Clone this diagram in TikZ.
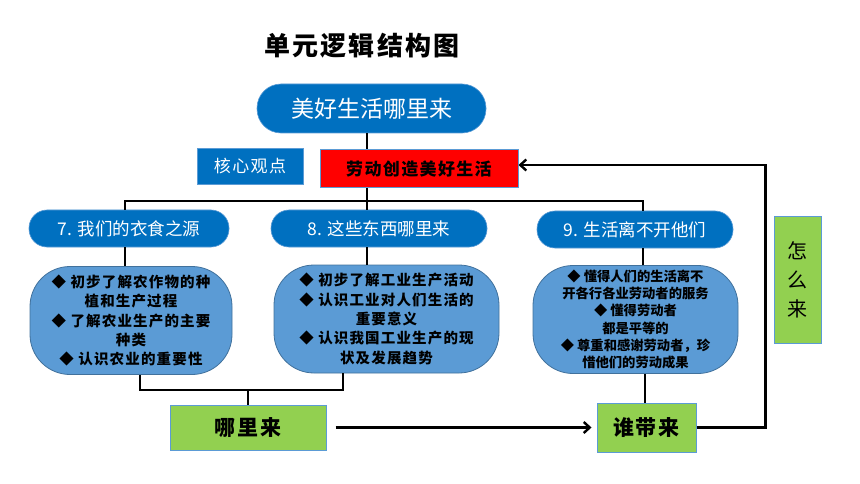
\documentclass[tikz,border=0pt]{standalone}
\usepackage{fontspec}
\setmainfont{Noto Sans CJK SC}
\newfontfamily\cjkspaced[LetterSpace=8]{Noto Sans CJK SC}
\usetikzlibrary{arrows.meta}
\definecolor{deepblue}{HTML}{0070C0}
\definecolor{paleblue}{HTML}{5B9BD5}
\definecolor{edgeblue}{HTML}{41719C}
\definecolor{leaf}{HTML}{92D050}
\tikzset{
  link/.style={line width=2.4pt, black},
  headpill/.style={rectangle, rounded corners=18pt, draw=paleblue, line width=0.6pt, fill=deepblue,
    text=white, minimum height=37pt, inner sep=0pt, font=\fontsize{17.5}{20}\selectfont},
  goalbox/.style={rectangle, draw=paleblue, line width=1pt, fill=leaf, inner sep=0pt},
  aimbox/.style={rectangle, rounded corners=40pt, draw=edgeblue, line width=0.8pt, fill=paleblue,
    inner sep=0pt, align=center}
}
\newcommand{\mapheadnode}[4] {\node at (#1) (#2) [headpill, minimum width=#3] {#4};}
\newcommand{\mapaimnode}[5] {\node at (#1) (#2) [aimbox, minimum width=#3, minimum height=108pt, font=#4] {#5};}
\newcommand{\mapgoalnode}[5] {\node at (#1) (#2) [goalbox, minimum width=#3, minimum height=#4] {#5};}
\begin{document}
\begin{tikzpicture}[x=1pt, y=-1pt, >={Straight Barb[length=6pt,width=11pt]}]
\useasboundingbox (0,0) rectangle (860,484);
\node at (362,46) (title) [font=\fontsize{26}{30}\selectfont\cjkspaced\bfseries] {单元逻辑结构图};
\node at (371.5,108.5) (top) [headpill, rounded corners=24pt, minimum width=229pt, minimum height=49pt,
  font=\fontsize{23}{26}\selectfont] {美好生活哪里来};
\node at (250,166) (core) [rectangle, draw=paleblue, fill=deepblue, text=white, minimum width=106pt,
  minimum height=36pt, inner sep=0pt, font=\fontsize{17}{20}\selectfont\cjkspaced] {核心观点};
\node at (419,169) (idea) [rectangle, draw=paleblue, line width=1pt, fill=red, minimum width=198pt,
  minimum height=38pt, inner sep=0pt, font=\fontsize{17}{20}\selectfont\cjkspaced\bfseries] {劳动创造美好生活};
% unit headings
\mapheadnode{129,228.5}{h7}{200pt}{7. 我们的衣食之源}
\mapheadnode{379,228.5}{h8}{216pt}{8. 这些东西哪里来}
\mapheadnode{635,229.5}{h9}{196pt}{9. 生活离不开他们}
% unit aims
\mapaimnode{131,320.5}{b7}{202pt}{\fontsize{14.5}{19.3}\selectfont\cjkspaced\bfseries}
  {◆ 初步了解农作物的种\\植和生产过程\\◆ 了解农业生产的主要\\种类\\◆ 认识农业的重要性}
\mapaimnode{386.5,319}{b8}{225pt}{\fontsize{14.5}{19.3}\selectfont\cjkspaced\bfseries}
  {◆ 初步了解工业生产活动\\◆ 认识工业对人们生活的\\重要意义\\◆ 认识我国工业生产的现\\状及发展趋势}
\mapaimnode{635.5,319.5}{b9}{205pt}{\fontsize{13.3}{17.3}\selectfont\bfseries}
  {◆ 懂得人们的生活离不\\开各行各业劳动者的服务\\◆ 懂得劳动者\\都是平等的\\◆ 尊重和感谢劳动者，珍\\惜他们的劳动成果}
% questions
\mapgoalnode{248,427.5}{where}{156pt}{45pt}{\fontsize{21}{24}\selectfont\cjkspaced\bfseries 哪里来}
\mapgoalnode{646.5,427.5}{who}{99pt}{49pt}{\fontsize{21}{24}\selectfont\cjkspaced\bfseries 谁带来}
\mapgoalnode{797.5,279.5}{how}{47pt}{127pt}{\parbox{20pt}{\centering\fontsize{20}{29}\selectfont 怎\\么\\来}}
% connectors
\coordinate (bar) at (367,201);
\coordinate (lj) at (248,390);
\draw [link] (top.south -| bar) -- (idea.north -| bar);
\draw [link] (idea.south -| bar) -- (h8.north -| bar);
\draw [link] ([xshift=-4pt]h7.north) |- (bar) -| ([xshift=8pt]h9.north);
\draw [link] ([xshift=-4pt]h7.south) -- ([xshift=-4pt]h7.south |- b7.north);
\draw [link] (h8.south -| bar) -- (b8.north -| bar);
\draw [link] ([xshift=8pt]h9.south) -- ([xshift=8pt]h9.south |- b9.north);
\draw [link] ([xshift=9pt]b7.south) |- (lj) -| ([xshift=-43.5pt]b8.south);
\draw [link] (lj) -- (where);
\draw [link] ([xshift=9.5pt]b9.south) -- ([xshift=9.5pt]b9.south |- who.north);
\draw [link, ->, shorten <=9pt, shorten >=5pt] (where) -- (who);
\draw [link, ->] (who.east) -- ++(69,0) |- ([yshift=4pt]idea.east);
\end{tikzpicture}
\end{document}
